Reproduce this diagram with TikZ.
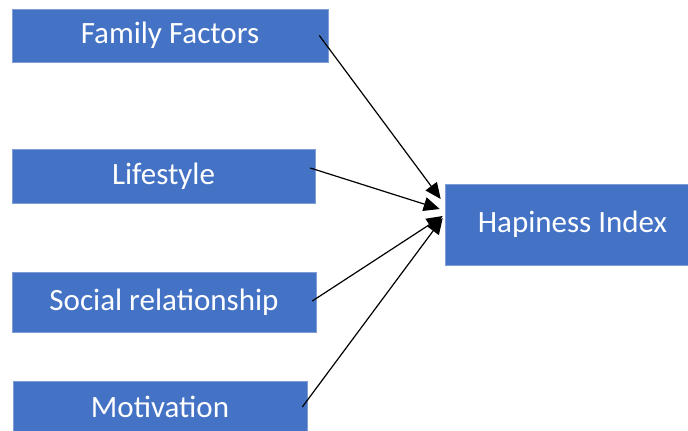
\documentclass[tikz,border=0pt]{standalone}
\usepackage{fontspec}
\setmainfont{Carlito}
\usetikzlibrary{arrows.meta,calc}
\definecolor{boxblue}{HTML}{4472C4}
\definecolor{boxedge}{HTML}{7E9DD6}
\begin{document}
\begin{tikzpicture}[x=1pt,y=-1pt,
  factor/.style={fill=boxblue,draw=boxedge,line width=0.6pt,text=white,
    inner sep=0pt,font=\fontsize{31}{37}\selectfont},
  link/.style={line width=1.2pt,-{Triangle[length=16pt,width=14pt]}}]
  \useasboundingbox (0,0) rectangle (688,431);
  % factor boxes
  \node[factor,minimum width=316pt,minimum height=53pt] (ff) at (170,35.5) {Family Factors};
  \node[factor,minimum width=303pt,minimum height=54pt] (ls) at (163.5,176) {Lifestyle};
  \node[factor,minimum width=304pt,minimum height=60pt] (sr) at (164,302) {Social relationship};
  \node[factor,minimum width=294pt,minimum height=52pt] (mo) at (160,407) {Motivation};
  % outcome box
  \node[factor,minimum width=255pt,minimum height=81pt] (hi) at (572.5,224.5) {Hapiness Index};
  % arrow anchors
  \coordinate (ffs) at ($(ff.east)+(-9,0)$);
  \coordinate (lss) at ($(ls.east)+(-5,-8)$);
  \coordinate (srs) at ($(sr.east)+(-4,-1)$);
  \coordinate (mos) at ($(mo.east)+(-5,0)$);
  \coordinate (fft) at ($(hi.west)+(-4,-25.5)$);
  \coordinate (lst) at ($(hi.west)+(-5,-15.5)$);
  \coordinate (srt) at ($(hi.west)+(-2,-8.5)$);
  \coordinate (mot) at ($(hi.west)+(-2,-6.5)$);
  % connectors
  \draw[link] (ffs) -- (fft);
  \draw[link] (lss) -- (lst);
  \draw[link] (srs) -- (srt);
  \draw[link] (mos) -- (mot);
\end{tikzpicture}
\end{document}
